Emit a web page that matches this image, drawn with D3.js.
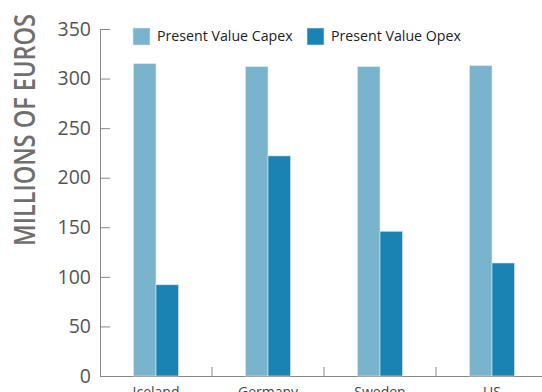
<!DOCTYPE html>
<html><head><meta charset="utf-8">
<script src="https://cdn.jsdelivr.net/npm/d3@7"></script>
<style>body{margin:0;background:#fff}svg{display:block;font-family:"Open Sans",sans-serif}</style>
</head><body>
<svg id="c" width="542" height="392"></svg>
<script>
const categories = ["Iceland", "Germany", "Sweden", "US"];
const seriesNames = ["Present Value Capex", "Present Value Opex"];
const capex = [315, 312, 312, 313];
const opex = [92, 222, 146, 114];
const yTicks = [0, 50, 100, 150, 200, 250, 300, 350];
const colors = ["#7ab3cc", "#1b82b4"];

const svg = d3.select("#c");
const x0 = 100, x1 = 548, yTop = 29, yBot = 376;
const x = d3.scaleBand().domain(categories).range([x0, x1]);
const y = d3.scaleLinear().domain([0, 350]).range([yBot, yTop]);
const bw = 22.5;
const sub = d3.scaleBand().domain(seriesNames).range([-bw, bw]);

const yAxis = svg.append("g").attr("transform", `translate(${x0},0)`)
  .call(d3.axisRight(y).tickValues(yTicks).tickSize(10).tickSizeOuter(0));
yAxis.select(".domain").attr("stroke", "#888");
yAxis.selectAll(".tick line").attr("stroke", "#888");
yAxis.selectAll(".tick text").attr("x", -9).attr("text-anchor", "end")
  .attr("font-size", 19.5).attr("fill", "#555").attr("font-family", "Open Sans");

const xAxis = svg.append("g").attr("transform", `translate(0,${yBot})`)
  .call(d3.axisBottom(x).tickSize(0).tickSizeOuter(0));
xAxis.select(".domain").attr("stroke", "#888");
xAxis.selectAll(".tick text").attr("y", 21).attr("dy", 0).attr("font-size", 14)
  .attr("fill", "#444").attr("font-family", "Open Sans");
// separator ticks between categories
svg.append("g").selectAll("line").data(categories.slice(1)).join("line")
  .attr("x1", d => x(d)).attr("x2", d => x(d))
  .attr("y1", yBot).attr("y2", yBot - 9).attr("stroke", "#888");

const series = [capex, opex];
series.forEach((vals, si) => {
  svg.append("g").selectAll("rect").data(categories).join("rect")
    .attr("x", d => x(d) + x.bandwidth() / 2 + sub(seriesNames[si]))
    .attr("width", sub.bandwidth())
    .attr("y", (d, i) => y(vals[i]))
    .attr("height", (d, i) => yBot - y(vals[i]))
    .attr("fill", colors[si])
    .attr("stroke", "#d6eaf3").attr("stroke-width", 0.6);
});

svg.append("text").attr("transform", "translate(35,130) rotate(-90)")
  .attr("text-anchor", "middle").attr("font-size", 28).attr("font-weight", 600)
  .attr("fill", "#6f6f6f")
  .attr("textLength", 232).attr("lengthAdjust", "spacingAndGlyphs")
  .text("MILLIONS OF EUROS");

const legX = [133, 307];
seriesNames.forEach((n, i) => {
  svg.append("rect").attr("x", legX[i]).attr("y", 28).attr("width", 17).attr("height", 17)
    .attr("fill", colors[i]).attr("stroke", "#d6eaf3").attr("stroke-width", 0.6);
  svg.append("text").attr("x", legX[i] + 24).attr("y", 41).attr("font-size", 14.2)
    .attr("fill", "#222").text(n);
});
</script>
</body></html>
